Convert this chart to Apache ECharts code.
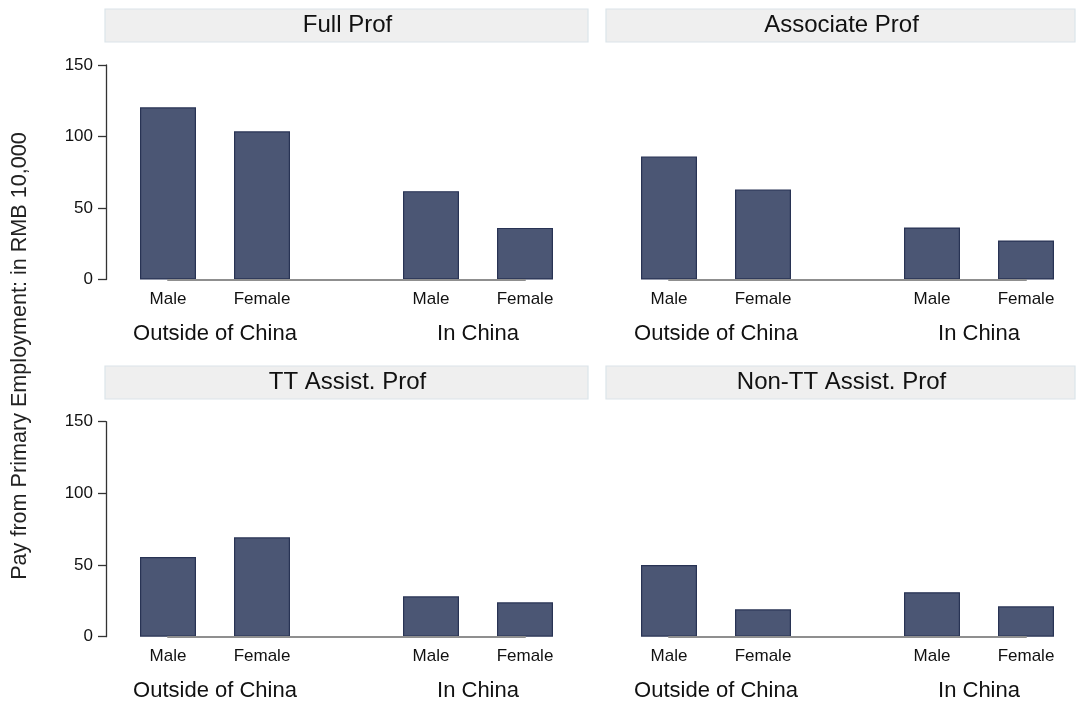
<!DOCTYPE html>
<html>
<head>
<meta charset="utf-8">
<script src="https://cdn.jsdelivr.net/npm/echarts@6/dist/echarts.min.js"></script>
<style>
  html, body { margin: 0; padding: 0; background: #fff; }
  #chart { width: 1078px; height: 706px; }
</style>
</head>
<body>
<div id="chart"></div>
<script>
// Pay from primary employment (RMB 10,000) by rank, location and gender
const genders = ['Male', 'Female'];
const locations = ['Outside of China', 'In China'];
const ranks = ['Full Prof', 'Associate Prof', 'TT Assist. Prof', 'Non-TT Assist. Prof'];
const yTicks = { min: 0, max: 150, interval: 50 };

const fullOutside = [120.4, 103.6];
const fullInChina = [61.8, 36.1];
const assocOutside = [86.1, 63.0];
const assocInChina = [36.4, 27.3];
const ttOutside = [55.6, 69.3];
const ttInChina = [28.2, 24.0];
const nonttOutside = [50.0, 19.1];
const nonttInChina = [31.0, 21.2];

const rankValues = [
  [fullOutside, fullInChina],
  [assocOutside, assocInChina],
  [ttOutside, ttInChina],
  [nonttOutside, nonttInChina]
];

const FONT = '"Liberation Sans", Arial, Helvetica, sans-serif';
const BAR_FILL = '#4b5674';
const BAR_EDGE = '#283354';

// panel frames: plot origin x, plot top, plot height, strip box
const panels = [
  { ox: 106, top: 65,    h: 214.5, strip: [105, 9,   483, 33] },
  { ox: 607, top: 65,    h: 214.5, strip: [606, 9,   469, 33] },
  { ox: 106, top: 421.7, h: 215,   strip: [105, 366, 483, 33] },
  { ox: 607, top: 421.7, h: 215,   strip: [606, 366, 469, 33] }
];
const CAT_W = 94;        // width of one gender slot
const BAR_W = 56;
const GROUP_OFFSETS = [15, 278]; // left edge of each location group inside a panel

const grids = [], xAxes = [], yAxes = [], series = [], graphics = [];

panels.forEach((p, pi) => {
  const showY = (pi % 2 === 0);
  const bottom = 706 - (p.top + p.h);

  // one grid per location group
  locations.forEach((loc, li) => {
    const idx = grids.length;
    grids.push({ left: p.ox + GROUP_OFFSETS[li], width: CAT_W * 2, top: p.top, bottom: bottom });
    xAxes.push({
      gridIndex: idx, type: 'category', data: genders,
      axisLine: { show: false }, axisTick: { show: false },
      axisLabel: { fontSize: 17, color: '#111', fontFamily: FONT, margin: 11 },
      name: loc, nameLocation: 'middle', nameGap: 43,
      nameTextStyle: { fontSize: 22, color: '#111', fontFamily: FONT }
    });
    const yShow = showY && li === 0;
    yAxes.push({
      gridIndex: idx, type: 'value', min: yTicks.min, max: yTicks.max, interval: yTicks.interval,
      show: yShow, offset: GROUP_OFFSETS[0],
      splitLine: { show: false },
      axisLine: { show: true, lineStyle: { color: '#333', width: 1.3 } },
      axisTick: { show: true, length: 8, lineStyle: { color: '#333', width: 1.3 } },
      axisLabel: { fontSize: 17, color: '#111', fontFamily: FONT, margin: 13 }
    });
    series.push({
      type: 'bar', xAxisIndex: idx, yAxisIndex: idx,
      data: rankValues[pi][li], barWidth: BAR_W,
      itemStyle: { color: BAR_FILL, borderColor: BAR_EDGE, borderWidth: 1.2 },
      silent: true, z: 2
    });
  });

  // baseline running from the first bar centre to the last bar centre
  const first = GROUP_OFFSETS[0] + CAT_W / 2;
  const last = GROUP_OFFSETS[1] + CAT_W * 1.5;
  const bIdx = grids.length;
  grids.push({ left: p.ox + first, width: last - first, top: p.top, bottom: bottom });
  xAxes.push({
    gridIndex: bIdx, type: 'category', data: ['', ''], boundaryGap: false,
    axisLine: { show: true, lineStyle: { color: '#8f8f8f', width: 2 } },
    axisTick: { show: false }, axisLabel: { show: false }, z: 3
  });
  yAxes.push({ gridIndex: bIdx, type: 'value', min: yTicks.min, max: yTicks.max, show: false });

  // facet strip
  const [sx, sy, sw, sh] = p.strip;
  graphics.push({
    type: 'rect', shape: { x: sx, y: sy, width: sw, height: sh },
    style: { fill: '#efefef', stroke: '#dbe4e9', lineWidth: 1.2 }, silent: true
  });
  graphics.push({
    type: 'text', x: sx + sw / 2 + 1, y: sy + sh / 2,
    style: { text: ranks[pi], fontSize: 24, fontFamily: FONT, fill: '#111',
             textAlign: 'center', textVerticalAlign: 'middle' }, silent: true
  });
});

// shared y-axis title
graphics.push({
  type: 'text', x: 20, y: 356, rotation: Math.PI / 2,
  style: { text: 'Pay from Primary Employment: in RMB 10,000', fontSize: 21.6, fontFamily: FONT,
           fill: '#222', textAlign: 'center', textVerticalAlign: 'middle' }, silent: true
});

const chart = echarts.init(document.getElementById('chart'), null, { renderer: 'canvas' });
chart.setOption({
  animation: false,
  backgroundColor: '#ffffff',
  grid: grids, xAxis: xAxes, yAxis: yAxes, series: series,
  graphic: graphics
});
</script>
</body>
</html>
